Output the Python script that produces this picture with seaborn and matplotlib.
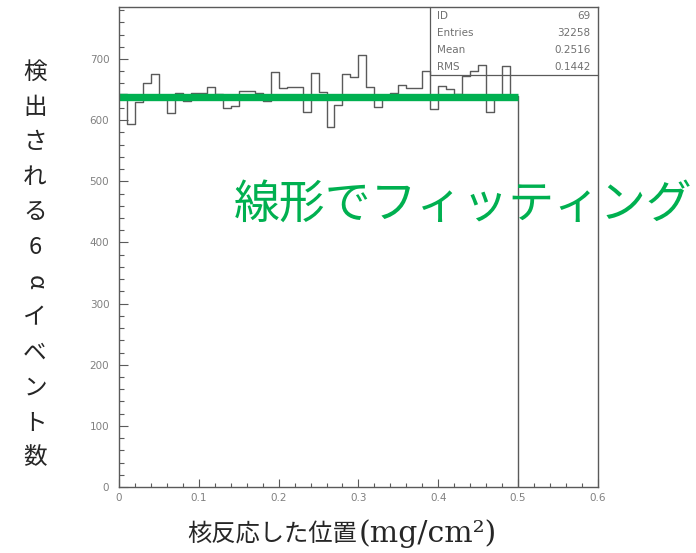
import numpy as np
import pandas as pd
import matplotlib
matplotlib.use("Agg")
import matplotlib.pyplot as plt
from matplotlib.ticker import MultipleLocator, FuncFormatter
import seaborn as sns

# histogram bins (0 - 0.5 mg/cm2, 50 bins) and counts
bin_edges = np.linspace(0.0, 0.5, 51)
counts = [642, 593, 630, 661, 675, 636, 611, 645, 632, 645,
          645, 655, 643, 620, 623, 647, 648, 645, 631, 679,
          652, 655, 655, 614, 677, 646, 589, 625, 676, 670,
          706, 655, 622, 640, 645, 658, 653, 652, 680, 619,
          656, 651, 643, 672, 680, 690, 614, 640, 689, 640]

# linear fit
fit_x = [-0.008, 0.5]
fit_value = 638

# stats box
stats_labels = ["ID", "Entries", "Mean", "RMS"]
stats_values = ["69", "32258", "0.2516", "0.1442"]

x_label_jp = "核反応した位置"
x_label_unit = "(mg/cm²)"
y_label_chars = list("検出される6αイベント数")
fit_note = "線形でフィッティング"

green = "#00B050"
grey = "#5a5a5a"

sns.set_style("white")
plt.rcParams['font.family'] = ['Noto Sans CJK JP', 'DejaVu Sans']

fig = plt.figure(figsize=(6.96, 5.53), dpi=100)
ax = fig.add_axes([0.171, 0.1193, 0.688, 0.868])

df = pd.DataFrame({"pos": (bin_edges[:-1] + bin_edges[1:]) / 2, "n": counts})
sns.histplot(data=df, x="pos", weights="n", bins=list(bin_edges),
             element="step", fill=False, color=grey, linewidth=1.0, ax=ax)
# close the histogram down to zero at the last edge
ax.vlines(bin_edges[-1], 0, counts[-1], color=grey, linewidth=1.0)

sns.lineplot(x=fit_x, y=[fit_value] * len(fit_x), color=green,
             linewidth=5.3, solid_capstyle="butt", ax=ax)

ax.set_xlim(0, 0.6)
ax.set_ylim(0, 785)
ax.set_xlabel("")
ax.set_ylabel("")

ax.xaxis.set_major_locator(MultipleLocator(0.1))
ax.xaxis.set_minor_locator(MultipleLocator(0.02))
ax.yaxis.set_major_locator(MultipleLocator(100))
ax.yaxis.set_minor_locator(MultipleLocator(20))
ax.xaxis.set_major_formatter(FuncFormatter(lambda v, _: f"{v:g}"))
ax.yaxis.set_major_formatter(FuncFormatter(lambda v, _: f"{v:g}"))
ax.tick_params(which="both", direction="in", color=grey, width=0.8,
               labelcolor="#808080", labelsize=7.5, bottom=True, left=True)
ax.tick_params(axis="y", which="major", length=6.5, pad=7)
ax.tick_params(axis="y", which="minor", length=3.5)
ax.tick_params(axis="x", which="major", length=6, pad=4)
ax.tick_params(axis="x", which="minor", length=3)
for tl in ax.get_xticklabels() + ax.get_yticklabels():
    tl.set_family('DejaVu Sans')
for sp in ax.spines.values():
    sp.set_color(grey)
    sp.set_linewidth(1.0)

# stats box in the top right corner
bx0, by0 = 0.649, 0.858
ax.plot([bx0, bx0, 1.0], [1.0, by0, by0], transform=ax.transAxes,
        color=grey, linewidth=0.9, clip_on=False)
row_h = (1.0 - by0) / len(stats_labels)
for i, (lab, val) in enumerate(zip(stats_labels, stats_values)):
    yy = 1.0 - row_h * (i + 0.5)
    ax.text(bx0 + 0.015, yy, lab, transform=ax.transAxes, ha="left",
            va="center", fontsize=7.5, color="#707070", family='DejaVu Sans')
    ax.text(0.985, yy, val, transform=ax.transAxes, ha="right",
            va="center", fontsize=7.5, color="#707070", family='DejaVu Sans')

# green note
fig.text(0.666, 0.630, fit_note, color=green, fontsize=33,
         ha="center", va="center")

# x label: gothic japanese + serif unit
split_x = 357 / 696
base_y = 1 - 542 / 553
fig.text(split_x, base_y, x_label_jp, fontsize=17.5, ha="right",
         va="baseline")
fig.text(split_x + 0.003, base_y, x_label_unit, fontsize=21.5, ha="left",
         va="baseline", family='DejaVu Serif')

# vertical y label, one character per line
n = len(y_label_chars)
top_px, bot_px = 72, 458
for i, ch in enumerate(y_label_chars):
    ypx = top_px + (bot_px - top_px) * i / (n - 1)
    rot = -90 if ch == "α" else 0
    fig.text(35 / 696, 1 - ypx / 553, ch, fontsize=17, ha="center",
             va="center", rotation=rot)

fig.savefig("out.png", dpi=100)
